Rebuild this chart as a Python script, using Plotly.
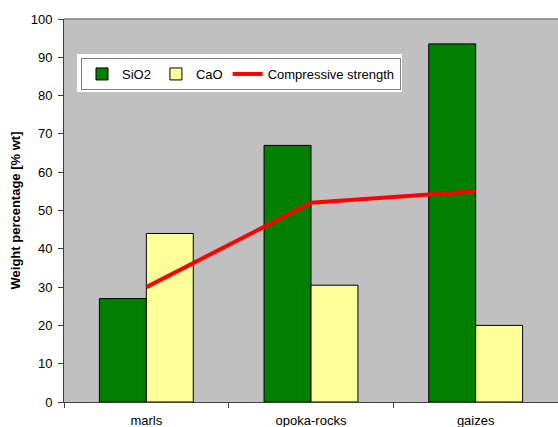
import plotly.graph_objects as go

categories = ["marls", "opoka-rocks", "gaizes"]
sio2 = [27, 67, 93.5]
cao = [44, 30.5, 20]
strength = [30, 52, 55]

fig = go.Figure()
fig.add_trace(go.Bar(x=categories, y=sio2, name="SiO2",
                     marker=dict(color="#008000", line=dict(color="black", width=1))))
fig.add_trace(go.Bar(x=categories, y=cao, name="CaO",
                     marker=dict(color="#FFFF99", line=dict(color="black", width=1))))
fig.add_trace(go.Scatter(x=categories, y=strength, name="Compressive strength",
                         mode="lines", line=dict(color="#FF0000", width=4)))

W, H = 558, 427
L, T, B, R = 64, 19, 25, 0
PW, PH = W - L - R, H - T - B


def px_x(p):
    return (p - L) / PW


def px_y(p):
    return 1 - (p - T) / PH


fig.update_layout(
    width=W, height=H,
    margin=dict(l=L, r=R, t=T, b=B, pad=0),
    paper_bgcolor="white",
    plot_bgcolor="#C0C0C0",
    font=dict(family="Arial, Liberation Sans, sans-serif", size=13, color="black"),
    barmode="group",
    bargap=0.43,
    bargroupgap=0,
    showlegend=True,
    legend=dict(
        orientation="h",
        x=px_x(81), y=px_y(58), xanchor="left", yanchor="top",
        bgcolor="white", bordercolor="#808080", borderwidth=1,
        font=dict(size=13),
        traceorder="normal",
        itemwidth=30,
    ),
    xaxis=dict(
        showline=True, linecolor="#404040", linewidth=1,
        ticks="outside", tickson="boundaries", ticklen=5, tickcolor="#404040",
        ticklabelstandoff=6,
        showgrid=False, zeroline=False,
    ),
    yaxis=dict(
        range=[0, 100], dtick=10,
        showline=True, linecolor="#404040", linewidth=1,
        ticks="outside", ticklen=5, tickcolor="#404040",
        ticklabelstandoff=3,
        showgrid=False, zeroline=False,
        title=dict(text="<b>Weight percentage [% wt]</b>", font=dict(size=13), standoff=7),
    ),
    shapes=[
        # white frame around the legend box
        dict(type="rect", xref="paper", yref="paper", layer="below",
             x0=px_x(77), x1=px_x(402), y0=px_y(92), y1=px_y(54),
             fillcolor="white", line=dict(width=0)),
        # top border of the plot area
        dict(type="line", xref="paper", yref="paper", x0=0, x1=1, y0=1, y1=1,
             line=dict(color="#808080", width=1.5)),
    ],
)

fig.write_html("out.html")
